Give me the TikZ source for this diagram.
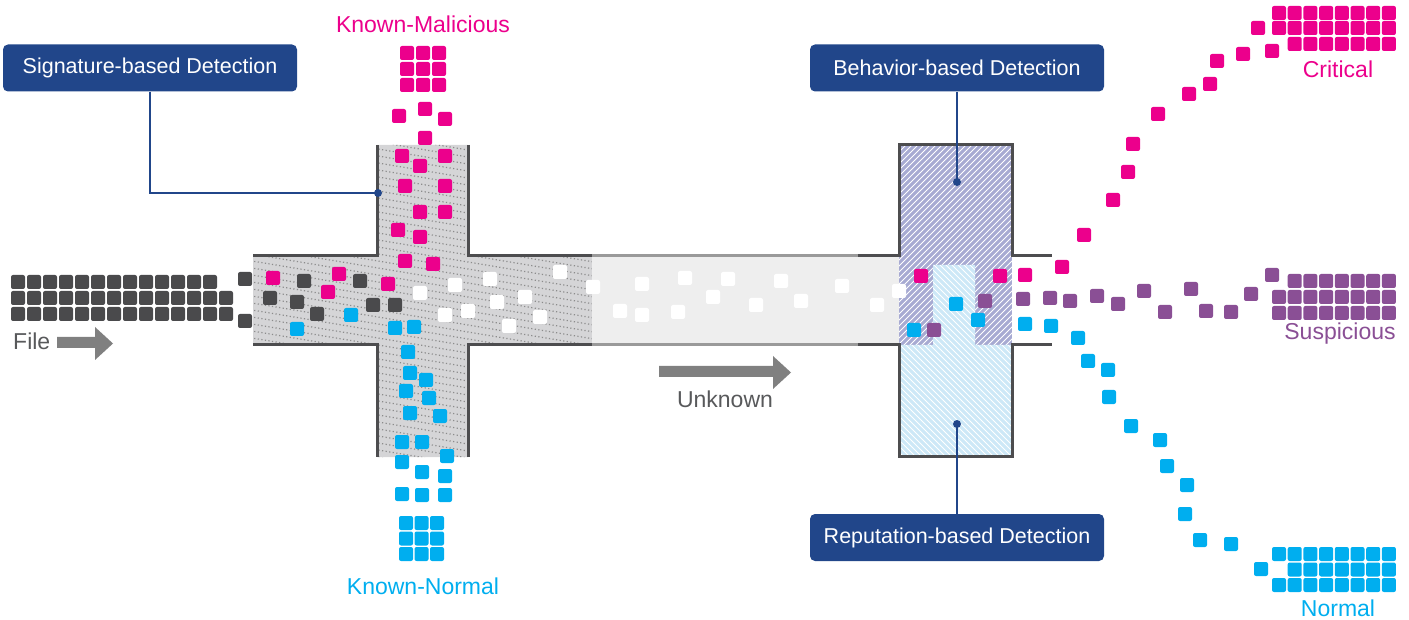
\documentclass[tikz,border=0pt]{standalone}
\usepackage{fontspec}
\setmainfont{Liberation Sans}
\usepackage{xcolor}
\usepackage{tikz}
\usetikzlibrary{shapes,arrows}

\definecolor{navyc}{HTML}{21468A}
\definecolor{pinkc}{HTML}{EC008C}
\definecolor{cyanc}{HTML}{00AEEF}
\definecolor{purplec}{HTML}{8A4F95}
\definecolor{darkc}{HTML}{4A4A4C}
\definecolor{wallc}{HTML}{4D4D4F}
\definecolor{pipewallc}{HTML}{9A9A9A}
\definecolor{crossfillc}{HTML}{D5D5D7}
\definecolor{dotc}{HTML}{8C8C8C}
\definecolor{pipefillc}{HTML}{EEEEEE}
\definecolor{behavfillc}{HTML}{A7AAD2}
\definecolor{repfillc}{HTML}{CDE8F7}
\definecolor{arrowc}{HTML}{808080}
\definecolor{textgrayc}{HTML}{58595B}

\begin{document}
\begin{tikzpicture}[
    x=1pt, y=-1pt,
    detector/.style={rectangle, fill=navyc, rounded corners=5pt, minimum width=294pt, minimum height=47pt, text=white, font=\fontsize{21.5}{25}\selectfont},
    caption/.style={anchor=base, inner sep=0pt, font=\fontsize{23}{27}\selectfont},
    tile/.style={rounded corners=2pt},
    wall/.style={line width=3pt, draw=wallc},
    pipewall/.style={line width=3pt, draw=pipewallc},
    leader/.style={line width=2pt, draw=navyc},
    dotline/.style={draw=dotc, line width=1.2pt, dash pattern=on 1.2pt off 2.4pt},
    hatch/.style={draw=white, line width=0.9pt}
]
\useasboundingbox (0,0) rectangle (1409,620);

% Signature cross (dotted fill)
\begin{scope}
\clip (253,256) -- (377,256) -- (377,145) -- (468,145) -- (468,256) -- (592,256) -- (592,345) -- (468,345) -- (468,457) -- (377,457) -- (377,345) -- (253,345) -- cycle;
\fill[crossfillc] (240,140) rectangle (600,460);
\foreach \k in {-10,...,46}
    \draw[dotline] (240,{140+7*\k}) -- (600,{200+7*\k});
\end{scope}

% Unknown pipe
\fill[pipefillc] (592,257) rectangle (899,345);

% Behavior / Reputation box
\begin{scope}
\clip (899,145) -- (1012,145) -- (1012,345) -- (975,345) -- (975,265) -- (933,265) -- (933,345) -- (899,345) -- cycle;
\fill[behavfillc] (899,145) rectangle (1012,345);
\foreach \k in {0,...,55}
    \draw[hatch] ({695+6*\k},350) -- ++(210,-210);
\end{scope}
\begin{scope}
\clip (933,265) -- (975,265) -- (975,345) -- (1012,345) -- (1012,456) -- (899,456) -- (899,345) -- (933,345) -- cycle;
\fill[repfillc] (899,260) rectangle (1012,460);
\foreach \k in {0,...,55}
    \draw[hatch] ({695+6*\k},260) -- ++(210,210);
\end{scope}

% Walls
\draw[wall] (253,256) -- (377,256) -- (377,145);
\draw[wall] (468,145) -- (468,256) -- (592,256);
\draw[wall] (253,345) -- (377,345) -- (377,457);
\draw[wall] (468,457) -- (468,345) -- (592,345);
\draw[pipewall] (592,256) -- (858,256);
\draw[pipewall] (592,345) -- (858,345);
\draw[wall] (858,256) -- (899,256) -- (899,145) -- (1012,145) -- (1012,256) -- (1052,256);
\draw[wall] (858,345) -- (899,345) -- (899,456) -- (1012,456) -- (1012,345) -- (1052,345);

% File tiles
\foreach \c in {0,...,12}
    \fill[tile, darkc] ({11+16*\c},275) rectangle ++(14,14);
\foreach \r in {0,1}
    \foreach \c in {0,...,13}
        \fill[tile, darkc] ({11+16*\c},{291+16*\r}) rectangle ++(14,14);
\foreach \x/\y in {245/279, 245/321, 304/281, 360/281, 270/298, 297/302, 317/314, 373/305, 395/305}
    \fill[tile, darkc] ({\x-7},{\y-7}) rectangle ++(14,14);

% Known-Malicious tiles
\foreach \r in {0,1,2}
    \foreach \c in {0,1,2}
        \fill[tile, pinkc] ({400+16*\c},{46+16*\r}) rectangle ++(14,14);
\foreach \x/\y in {399/116, 425/109, 445/119, 425/138, 402/156, 420/166, 445/156, 405/186, 445/186, 420/212, 445/212, 398/230, 420/237, 405/261, 433/264, 273/278, 339/274, 328/292, 388/284}
    \fill[tile, pinkc] ({\x-7},{\y-7}) rectangle ++(14,14);

% Known-Normal tiles
\foreach \x/\y in {297/329, 351/315, 395/328, 414/327, 408/352, 410/373, 426/380, 406/391, 429/398, 410/413, 440/416, 402/442, 422/442, 402/462, 447/456, 422/472, 445/476, 402/494, 422/495, 445/495}
    \fill[tile, cyanc] ({\x-7},{\y-7}) rectangle ++(14,14);
\foreach \r in {0,1,2}
    \foreach \c in {0,1,2}
        \fill[tile, cyanc] ({399+15.5*\c},{516+15.5*\r}) rectangle ++(14,14);

% Unknown tiles
\foreach \x/\y in {420/293, 455/285, 490/279, 560/272, 593/287, 445/315, 468/311, 497/302, 525/297, 540/317, 509/326, 642/284, 685/278, 728/279, 713/297, 781/281, 801/301, 756/305, 842/286, 877/305, 899/291, 620/311, 642/315, 678/312}
    \fill[tile, white] ({\x-7},{\y-7}) rectangle ++(14,14);

% Critical tiles
\foreach \x/\y in {921/276, 1000/276, 1025/275, 1062/267, 1084/235, 1113/200, 1128/172, 1133/144, 1158/114, 1189/94, 1210/84, 1217/61, 1243/54, 1272/51, 1258/28}
    \fill[tile, pinkc] ({\x-7},{\y-7}) rectangle ++(14,14);
\foreach \c in {0,...,7} {
    \fill[tile, pinkc] ({1272+15.7*\c},6) rectangle ++(14,14);
    \fill[tile, pinkc] ({1272+15.7*\c},21) rectangle ++(14,14);
}
\foreach \c in {1,...,7}
    \fill[tile, pinkc] ({1272+15.7*\c},37) rectangle ++(14,14);

% Suspicious tiles
\foreach \x/\y in {985/301, 934/330, 1023/299, 1050/298, 1070/301, 1097/296, 1118/304, 1144/291, 1165/312, 1191/289, 1206/311, 1231/312, 1251/294, 1272/275}
    \fill[tile, purplec] ({\x-7},{\y-7}) rectangle ++(14,14);
\foreach \c in {1,...,7}
    \fill[tile, purplec] ({1272+15.7*\c},274) rectangle ++(14,14);
\foreach \c in {0,...,7} {
    \fill[tile, purplec] ({1272+15.7*\c},290) rectangle ++(14,14);
    \fill[tile, purplec] ({1272+15.7*\c},306) rectangle ++(14,14);
}

% Normal tiles
\foreach \x/\y in {956/304, 978/320, 914/330, 1025/324, 1051/326, 1078/338, 1088/361, 1108/370, 1109/397, 1131/426, 1160/440, 1167/466, 1187/485, 1185/514, 1200/540, 1231/544, 1261/569}
    \fill[tile, cyanc] ({\x-7},{\y-7}) rectangle ++(14,14);
\foreach \c in {0,...,7} {
    \fill[tile, cyanc] ({1272+15.7*\c},547) rectangle ++(14,14);
    \fill[tile, cyanc] ({1272+15.7*\c},578) rectangle ++(14,14);
}
\foreach \c in {1,...,7}
    \fill[tile, cyanc] ({1272+15.7*\c},562.5) rectangle ++(14,14);

% Flow arrows
\fill[arrowc] (57,337) -- (95,337) -- (95,327) -- (113,343.5) -- (95,360) -- (95,348) -- (57,348) -- cycle;
\fill[arrowc] (659,366) -- (773,366) -- (773,356) -- (791,372.5) -- (773,389) -- (773,377) -- (659,377) -- cycle;

% Captions
\node[caption, text=pinkc] (malicious) at (423,33) {Known-Malicious};
\node[caption, text=cyanc] (knownnormal) at (423,594) {Known-Normal};
\node[caption, text=textgrayc, anchor=base west] (file) at (13,350) {File};
\node[caption, text=textgrayc] (unknown) at (725,407) {Unknown};
\node[caption, text=pinkc] (critical) at (1338,78) {Critical};
\node[caption, text=purplec] (suspicious) at (1340,340) {Suspicious};
\node[caption, text=cyanc] (normal) at (1338,616) {Normal};

% Detection labels
\node[detector] (sig) at (150,68) {Signature-based Detection};
\node[detector] (behav) at (957,68) {Behavior-based Detection};
\node[detector] (rep) at (957,537.5) {Reputation-based Detection};

\coordinate (sigdot) at (378,193);
\coordinate (behavdot) at (957,182);
\coordinate (repdot) at (957,424);

\draw[leader] (sig.south) |- (sigdot);
\draw[leader] (behav.south) -- (behavdot);
\draw[leader] (rep.north) -- (repdot);
\foreach \d in {sigdot, behavdot, repdot}
    \fill[navyc] (\d) circle (4);

\end{tikzpicture}
\end{document}
